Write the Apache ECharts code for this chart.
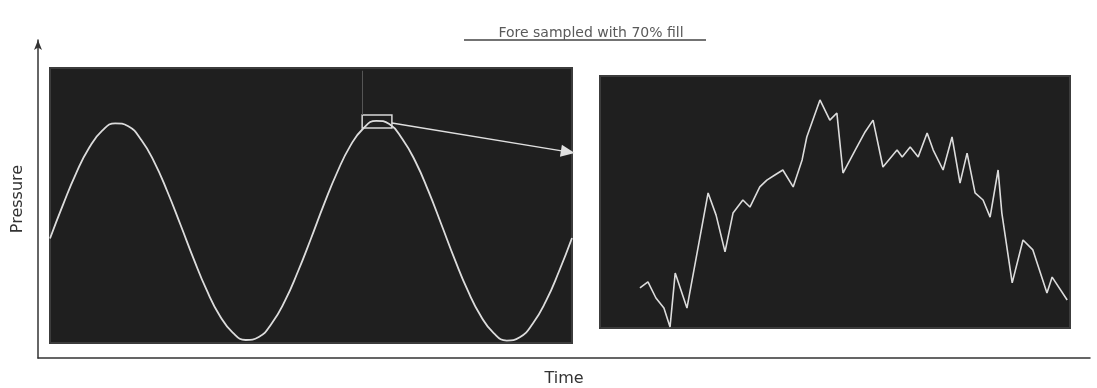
<!DOCTYPE html>
<html>
<head>
<meta charset="utf-8">
<script src="https://cdn.jsdelivr.net/npm/echarts@6/dist/echarts.min.js"></script>
<style>html,body{margin:0;padding:0;background:#fff}#c{width:1097px;height:388px}</style>
</head>
<body>
<div id="c"></div>
<script>
// ---- data ----
const titleText = 'Fore sampled with 70% fill';
const xName = 'Time';
const yName = 'Pressure';

// left panel: overall signal (time units, pressure %)
const waveT = [0,0.25,0.5,0.75,1,1.25,1.5,1.75,2,2.25,2.5,2.75,3,3.25,3.5,3.75,4,4.25,4.5,4.75,5,
               5.25,5.5,5.75,6,6.25,6.5,6.75,7,7.25,7.5,7.75,8,8.25,8.5,8.75,9,9.25,9.5,9.75,10];
const waveP = [38.0,50.3,61.7,71.0,77.2,79.9,78.8,73.8,65.7,55.0,43.0,30.7,19.3,10.0,3.8,1.1,2.2,7.2,15.3,26.0,38.0,
               50.5,62.0,71.6,78.0,80.8,79.6,74.2,66.0,55.2,43.0,30.6,19.2,9.9,3.6,0.9,2.1,7.1,15.2,26.0,38.2];

// zoom box around second peak, its faint guide, and arrow to the detail view
const zoomBox = [[5.98, 82.9], [6.55, 78.2]];
const guideLine = [[5.98, 99.0], [5.98, 83.0]];
const arrowLine = [[6.55, 80.0], [9.92, 69.5]];

// right panel: detail (zoomed) signal
const detailX = [8.5,10.2,11.9,13.6,14.9,16.0,18.5,23.0,24.7,26.6,28.3,30.4,31.9,34.0,35.5,37.2,38.9,41.1,43.0,44.0,
                 46.8,48.9,50.4,51.7,54.3,56.4,58.1,60.2,63.2,64.3,66.0,67.7,69.6,70.9,73.0,74.9,76.6,78.1,79.8,81.5,
                 83.0,84.7,85.5,87.7,90.0,92.1,95.1,96.2,99.4];
const detailY = [15.9,18.3,11.9,7.9,0.4,21.8,7.9,53.6,44.8,30.2,45.6,50.8,48.0,56.0,58.7,60.7,62.7,56.0,66.7,75.8,
                 90.5,82.5,85.3,61.5,70.6,77.8,82.5,63.9,70.6,67.9,71.8,67.9,77.4,70.6,62.7,75.8,57.5,69.4,53.6,50.8,
                 44.0,62.7,45.6,17.9,34.9,31.0,13.9,20.2,11.1];

const wave = waveT.map((t, i) => [t, waveP[i]]);
const detail = detailX.map((x, i) => [x, detailY[i]]);

const chart = echarts.init(document.getElementById('c'), null, {renderer: 'canvas'});
const hidden = {show: false};
const lineCol = '#dcdcdc';

chart.setOption({
  backgroundColor: '#ffffff',
  animation: false,
  title: {
    text: titleText, left: 586, top: 21, textAlign: 'center',
    textStyle: {fontFamily: 'DejaVu Sans', fontSize: 14, fontWeight: 'normal', color: '#5a5a5a'}
  },
  graphic: [
    {type: 'line', shape: {x1: 464, y1: 40, x2: 706, y2: 40}, style: {stroke: '#444', lineWidth: 1.5}, silent: true}
  ],
  grid: [
    {left: 38, top: 40, right: 7, bottom: 30, show: false, outerBoundsMode: 'none'},
    {left: 50, top: 68, width: 522, height: 275, show: true, backgroundColor: '#1f1f1f', borderColor: '#3c3c3c', borderWidth: 2, outerBoundsMode: 'none'},
    {left: 600, top: 76, width: 470, height: 252, show: true, backgroundColor: '#1f1f1f', borderColor: '#3c3c3c', borderWidth: 2, outerBoundsMode: 'none'}
  ],
  xAxis: [
    {gridIndex: 0, type: 'value', min: 0, max: 100,
     axisLine: {show: true, lineStyle: {color: '#333', width: 1.5}},
     axisTick: hidden, axisLabel: hidden, splitLine: hidden,
     name: xName, nameLocation: 'middle', nameGap: 13,
     nameTextStyle: {fontFamily: 'DejaVu Sans', fontSize: 16, color: '#333'}},
    {gridIndex: 1, type: 'value', min: 0, max: 10, show: false, splitLine: hidden},
    {gridIndex: 2, type: 'value', min: 0, max: 100, show: false, splitLine: hidden}
  ],
  yAxis: [
    {gridIndex: 0, type: 'value', min: 0, max: 100,
     axisLine: {show: true, symbol: ['none', 'arrow'], symbolSize: [6, 10], lineStyle: {color: '#333', width: 1.5}},
     axisTick: hidden, axisLabel: hidden, splitLine: hidden,
     name: yName, nameLocation: 'middle', nameGap: 12, nameRotate: 90,
     nameTextStyle: {fontFamily: 'DejaVu Sans', fontSize: 16, color: '#333'}},
    {gridIndex: 1, type: 'value', min: 0, max: 100, show: false, splitLine: hidden},
    {gridIndex: 2, type: 'value', min: 0, max: 100, show: false, splitLine: hidden}
  ],
  series: [
    {
      type: 'line', xAxisIndex: 1, yAxisIndex: 1, data: wave, smooth: true, showSymbol: false,
      lineStyle: {color: lineCol, width: 1.8}, silent: true,
      markArea: {
        silent: true,
        itemStyle: {color: 'rgba(0,0,0,0)', borderColor: '#d8d8d8', borderWidth: 1.5},
        data: [[{coord: zoomBox[0]}, {coord: zoomBox[1]}]]
      },
      markLine: {
        silent: true, symbol: ['none', 'triangle'], symbolSize: [12, 14],
        label: hidden,
        lineStyle: {color: '#e0e0e0', width: 1.5, type: 'solid'},
        data: [
          [{coord: arrowLine[0]}, {coord: arrowLine[1]}],
          [{coord: guideLine[0], symbol: 'none', lineStyle: {color: '#555', width: 1}},
           {coord: guideLine[1], symbol: 'none'}]
        ]
      }
    },
    {
      type: 'line', xAxisIndex: 2, yAxisIndex: 2, data: detail, smooth: false, showSymbol: false,
      lineStyle: {color: lineCol, width: 1.6}, silent: true
    }
  ]
});
</script>
</body>
</html>
